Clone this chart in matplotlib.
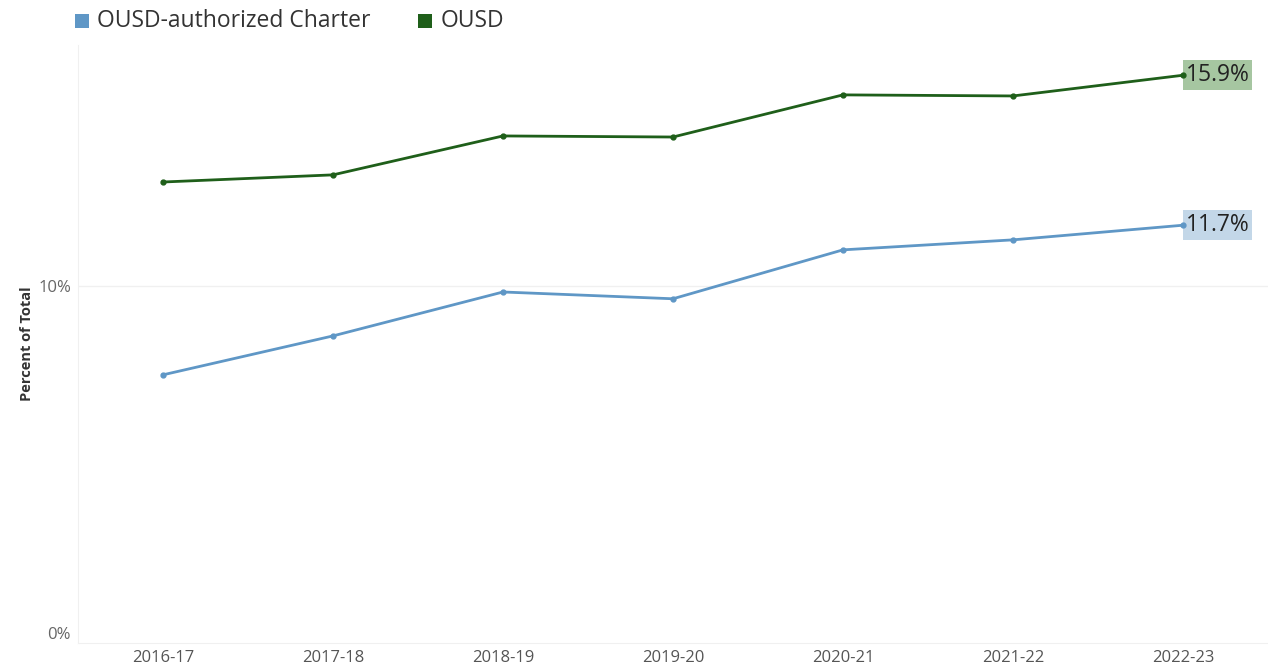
import matplotlib as mpl
import matplotlib.pyplot as plt

mpl.use('agg')
plt.rcParams['font.family'] = ['Open Sans', 'DejaVu Sans']

# school years on the x axis
years = ['2016-17', '2017-18', '2018-19', '2019-20', '2020-21', '2021-22', '2022-23']
# percent of total
charter = [7.51, 8.60, 9.83, 9.64, 11.01, 11.29, 11.7]
ousd = [12.91, 13.11, 14.20, 14.17, 15.35, 15.32, 15.9]

blue = '#5f97c6'
green = '#1f5f1a'

fig = plt.figure(figsize=(12.68, 6.70), dpi=100)
ax = fig.add_axes([0.0615, 0.0403, 0.9385, 0.8927])

x = list(range(len(years)))
ax.plot(x, charter, color=blue, lw=2, marker='o', ms=3.5, zorder=3)
ax.plot(x, ousd, color=green, lw=2, marker='o', ms=3.5, zorder=3)

# end-of-line labels
ax.annotate('%.1f%%' % charter[-1], (x[-1], charter[-1]), xytext=(2, 0),
            textcoords='offset points', va='center', ha='left', fontsize=16.5, color='#222222',
            bbox=dict(boxstyle='square,pad=0.12', fc='#c3d7e8', ec='none'), zorder=2)
ax.annotate('%.1f%%' % ousd[-1], (x[-1], ousd[-1]), xytext=(2, 0),
            textcoords='offset points', va='center', ha='left', fontsize=16.5, color='#222222',
            bbox=dict(boxstyle='square,pad=0.12', fc='#a6c6a1', ec='none'), zorder=2)

ax.set_xlim(-0.5, 6.5)
ax.set_ylim(0, 16.75)
ax.set_xticks(x)
ax.set_xticklabels(years, fontsize=12, color='#555555')
ax.set_yticks([0, 10])
ax.set_yticklabels(['0%', '10%'], fontsize=12, color='#666666')
ax.get_yticklabels()[0].set_verticalalignment('bottom')
ax.tick_params(length=0, pad=5)
ax.set_ylabel('Percent of Total', fontsize=10.5, fontweight='bold', color='#333333', labelpad=3)

ax.axhline(10, color='#f0f0f0', lw=1, zorder=1)
for side in ['top', 'right']:
    ax.spines[side].set_visible(False)
ax.spines['left'].set_color('#f0f0f0')
ax.spines['bottom'].set_color('#f0f0f0')

# legend across the top
fig.patches.append(mpl.patches.Rectangle((75 / 1268, 1 - 28 / 670), 14 / 1268, 14 / 670,
                                         transform=fig.transFigure, fc=blue, ec='none'))
fig.text(97 / 1268, 1 - 21 / 670, 'OUSD-authorized Charter', fontsize=16.5, color='#333333', va='center')
fig.patches.append(mpl.patches.Rectangle((418 / 1268, 1 - 28 / 670), 14 / 1268, 14 / 670,
                                         transform=fig.transFigure, fc=green, ec='none'))
fig.text(441 / 1268, 1 - 21 / 670, 'OUSD', fontsize=16.5, color='#333333', va='center')

fig.savefig('out.png')
